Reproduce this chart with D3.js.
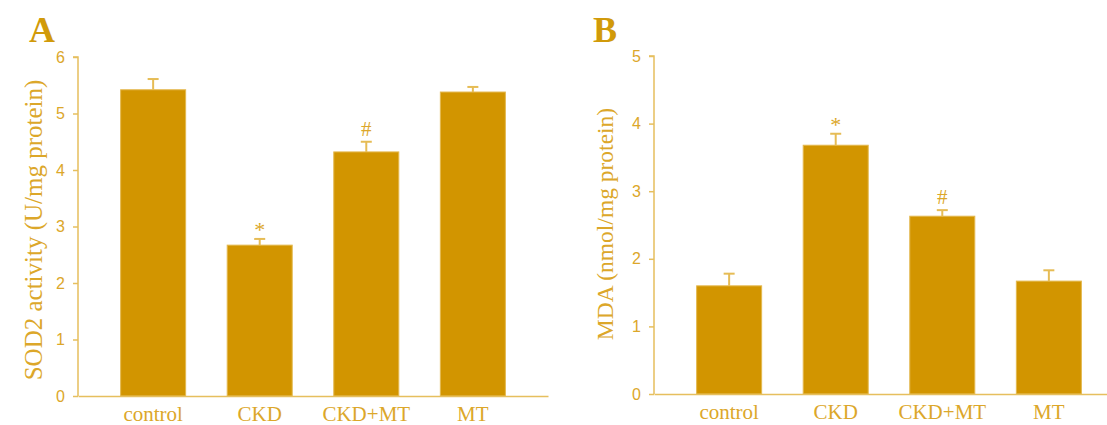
<!DOCTYPE html>
<html><head><meta charset="utf-8">
<script src="https://cdn.jsdelivr.net/npm/d3@7"></script>
<style>body{margin:0;background:#fff;}svg{display:block;}</style>
</head><body>
<svg id="chart" width="1107" height="425"></svg>
<script>
const categories = ["control", "CKD", "CKD+MT", "MT"];
const sodValues = [5.42, 2.67, 4.32, 5.38];
const sodErrors = [0.19, 0.11, 0.18, 0.09];
const sodMarks = ["", "*", "#", ""];
const sodTicks = [0, 1, 2, 3, 4, 5, 6];
const mdaValues = [1.60, 3.68, 2.63, 1.67];
const mdaErrors = [0.18, 0.17, 0.09, 0.16];
const mdaMarks = ["", "*", "#", ""];
const mdaTicks = [0, 1, 2, 3, 4, 5];

const svg = d3.select("#chart");
const barColor = "#D29500", axisColor = "#E6BF5E", textColor = "#DCA72A";

function panel(opts) {
  const g = svg.append("g");
  const x = d3.scaleBand().domain(categories).range([opts.x0, opts.x0 + 470]).paddingInner(0.39).paddingOuter(0.4);
  const y = d3.scaleLinear().domain([0, opts.max]).range([opts.yBottom, opts.yTop]);

  g.selectAll("rect.bar").data(opts.values).enter().append("rect")
    .attr("x", (d, i) => x(categories[i])).attr("width", x.bandwidth())
    .attr("y", d => y(d)).attr("height", d => y(0) - y(d))
    .attr("fill", barColor).attr("stroke", "#E4B84E").attr("stroke-width", 1);
  opts.values.forEach((v, i) => {
    const cx = x(categories[i]) + x.bandwidth() / 2;
    const top = y(v + opts.errors[i]);
    g.append("line").attr("x1", cx).attr("x2", cx).attr("y1", y(v)).attr("y2", top)
      .attr("stroke", "#E6BC55").attr("stroke-width", 2);
    g.append("line").attr("x1", cx - 5.5).attr("x2", cx + 5.5).attr("y1", top).attr("y2", top)
      .attr("stroke", "#E6BC55").attr("stroke-width", 2);
    if (opts.marks[i]) {
      const star = opts.marks[i] === "*";
      g.append("text").attr("x", cx).attr("y", top - (star ? 2 : 6))
        .attr("text-anchor", "middle").attr("font-family", "Liberation Serif, serif")
        .attr("font-size", star ? 22 : 21).attr("fill", textColor)
        .text(opts.marks[i]);
    }
  });

  const ya = g.append("g").attr("transform", `translate(${opts.x0},0)`)
    .call(d3.axisLeft(y).tickValues(opts.ticks).tickSize(5).tickPadding(8).tickFormat(d3.format("d")));
  ya.select(".domain").attr("stroke", axisColor).attr("stroke-width", 1.5).attr("d", `M-5,${y(opts.max)}H0V${y(0)}`);
  ya.selectAll(".tick line").attr("stroke", axisColor).attr("stroke-width", 1.5);
  ya.selectAll(".tick text").attr("fill", textColor).attr("font-family", "Liberation Sans, Arial, sans-serif")
    .attr("font-size", 16);

  const xa = g.append("g").attr("transform", `translate(0,${y(0)})`)
    .call(d3.axisBottom(x).tickSize(0).tickPadding(10));
  xa.select(".domain").attr("stroke", axisColor).attr("stroke-width", 1.5);
  xa.selectAll(".tick text").attr("fill", textColor).attr("font-family", "Liberation Serif, serif")
    .attr("font-size", 21).attr("dy", "0.72em");

  g.append("text").attr("transform", `translate(${opts.titleX},${opts.titleY}) rotate(-90)`)
    .attr("text-anchor", "middle").attr("font-family", "Liberation Serif, serif")
    .attr("font-size", opts.titleSize).attr("fill", textColor).text(opts.title);

  g.append("text").attr("x", opts.letterX).attr("y", 42).attr("font-family", "Liberation Serif, serif")
    .attr("font-weight", "bold").attr("font-size", 36).attr("fill", "#D19A0A").text(opts.letter);
}

panel({x0: 78, yBottom: 396, yTop: 57, max: 6, values: sodValues, errors: sodErrors, marks: sodMarks,
  ticks: sodTicks, title: "SOD2 activity (U/mg protein)", titleSize: 25, titleX: 42, titleY: 230, letter: "A", letterX: 29});
panel({x0: 654, yBottom: 394, yTop: 56, max: 5, values: mdaValues, errors: mdaErrors, marks: mdaMarks,
  ticks: mdaTicks, title: "MDA (nmol/mg protein)", titleSize: 23.5, titleX: 613, titleY: 224, letter: "B", letterX: 593});
</script>
</body></html>
